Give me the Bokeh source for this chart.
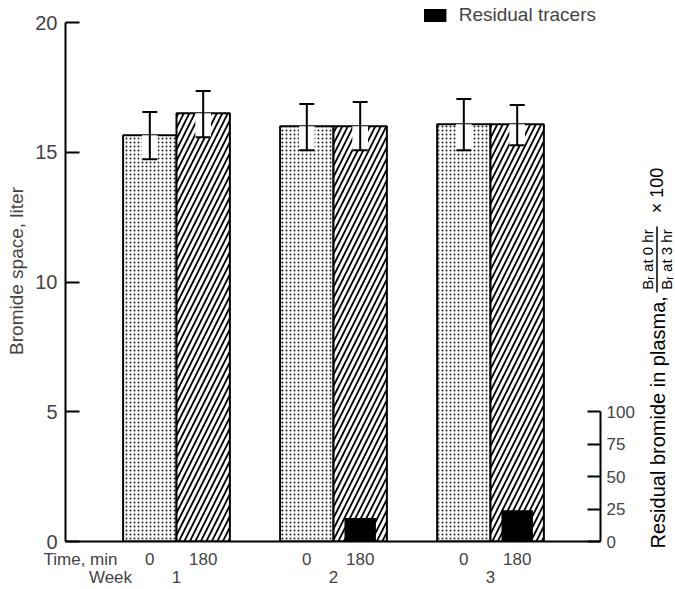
from math import pi

from bokeh.embed import file_html
from bokeh.layouts import row
from bokeh.models import (ColumnDataSource, FixedTicker, Legend, LegendItem,
                          LinearAxis, Range1d, TeeHead, Whisker)
from bokeh.core.properties import value
from bokeh.plotting import figure
from bokeh.resources import INLINE

# Bromide space (liters) at 0 and 180 min, by week, with error-bar limits
weeks = [1, 2, 3]
space_0 = [15.66, 16.0, 16.08]
space_0_lo = [14.73, 15.08, 15.08]
space_0_hi = [16.55, 16.86, 17.05]
space_180 = [16.5, 16.0, 16.08]
space_180_lo = [15.58, 15.08, 15.27]
space_180_hi = [17.36, 16.94, 16.82]
# Residual bromide in plasma (% of 0 hr), right axis
residual = [0, 18, 24]

left_ticks = [0, 5, 10, 15, 20]
right_ticks = [0, 25, 50, 75, 100]
time_labels = ["0", "180"]

FONT = "Liberation Sans"
BAR_W = 0.34
OFF = 0.17
X_START, X_END = 0.293, 3.7006
# row captions sit just left of the first pair of bars
TIME_CAPTION_X = X_START + 0.0956
WEEK_CAPTION_X = X_START + 0.2866

x0 = [w - OFF for w in weeks]
x180 = [w + OFF for w in weeks]

src0 = ColumnDataSource(dict(x=x0, top=space_0, lo=space_0_lo, hi=space_0_hi))
src180 = ColumnDataSource(dict(x=x180, top=space_180, lo=space_180_lo, hi=space_180_hi))
src_res = ColumnDataSource(dict(x=x180, top=residual))

p = figure(width=637, height=589,
           x_range=Range1d(X_START, X_END), y_range=Range1d(0, 20.85),
           output_backend="svg", toolbar_location=None,
           min_border_left=65, min_border_right=37,
           min_border_top=0, min_border_bottom=48)
p.frame_align = False
p.outline_line_color = None
p.grid.visible = False
p.background_fill_color = "white"
p.border_fill_color = "white"

# second scale for the residual percentage
p.extra_y_ranges = {"res": Range1d(0, 416.2)}

# stippled bars: 0 min
p.vbar(x="x", top="top", bottom=0, width=BAR_W, source=src0,
       fill_color="white", line_color="black", line_width=2,
       hatch_pattern="dot", hatch_scale=4, hatch_weight=1.8,
       hatch_color="#1a1a1a")
# hatched bars: 180 min
p.vbar(x="x", top="top", bottom=0, width=BAR_W, source=src180,
       fill_color="white", line_color="black", line_width=2,
       hatch_pattern="right_diagonal_line", hatch_scale=11,
       hatch_weight=1.8, hatch_color="black")
# residual tracers, solid black
res_r = p.vbar(x="x", top="top", bottom=0, width=0.2, source=src_res,
               y_range_name="res", fill_color="black", line_color=None)

# clear strip behind the lower half of each error bar
for src in (src0, src180):
    p.vbar(x="x", top="top", bottom="lo", width=0.1, source=src,
           fill_color="white", line_color=None)
    p.add_layout(Whisker(base="x", upper="hi", lower="lo", source=src,
                         level="overlay", line_width=2, line_color="black",
                         upper_head=TeeHead(size=15, line_width=2),
                         lower_head=TeeHead(size=15, line_width=2)))

# left axis
yax = p.yaxis[0]
yax.ticker = FixedTicker(ticks=left_ticks)
yax.bounds = (0, 20)
yax.major_tick_in = 14
yax.major_tick_out = 0
yax.minor_tick_line_color = None
yax.axis_line_width = 2
yax.major_tick_line_width = 2
yax.major_label_standoff = 8
yax.axis_label = "Bromide space, liter"
yax.axis_label_standoff = 5
yax.axis_label_text_font_style = "normal"
yax.axis_label_text_font = FONT
yax.axis_label_text_font_size = "19px"
yax.major_label_text_font = FONT
yax.major_label_text_font_size = "20px"

# right axis: residual %
rax = LinearAxis(y_range_name="res", ticker=FixedTicker(ticks=right_ticks),
                 bounds=(0, 100), major_tick_in=13, major_tick_out=0,
                 minor_tick_line_color=None, axis_line_width=2,
                 major_tick_line_width=2, major_label_standoff=6,
                 major_label_text_font=FONT, major_label_text_font_size="17px")
p.add_layout(rax, "right")

# bottom axis: time labels under each bar, caption at the left
xax = p.xaxis[0]
tick_pos = [TIME_CAPTION_X]
overrides = {TIME_CAPTION_X: "Time, min"}
for a, b in zip(x0, x180):
    tick_pos += [a, b]
    overrides[a] = time_labels[0]
    overrides[b] = time_labels[1]
xax.ticker = FixedTicker(ticks=tick_pos)
xax.major_label_overrides = overrides
xax.major_tick_in = 0
xax.major_tick_out = 0
xax.minor_tick_line_color = None
xax.axis_line_width = 2
xax.major_label_standoff = 8
xax.major_label_text_font = FONT
xax.major_label_text_font_size = "17px"

# week numbers under each pair
wax = LinearAxis(ticker=FixedTicker(ticks=[WEEK_CAPTION_X] + weeks),
                 major_label_overrides={WEEK_CAPTION_X: "Week"},
                 axis_line_color=None, major_tick_line_color=None,
                 minor_tick_line_color=None, major_tick_in=0,
                 major_tick_out=0, minor_tick_in=0, minor_tick_out=0,
                 major_label_standoff=-4,
                 major_label_text_font=FONT, major_label_text_font_size="17px")
p.add_layout(wax, "below")

legend = Legend(items=[LegendItem(label="Residual tracers", renderers=[res_r])],
                location="top_right", border_line_color=None,
                background_fill_alpha=0, glyph_width=28, glyph_height=16,
                label_text_font=FONT, label_text_font_size="19px",
                margin=4, padding=6, label_standoff=10)
p.add_layout(legend)

# strip to the right holding the title of the residual scale
STRIP_W = 675 - 637
t = figure(width=STRIP_W, height=589,
           x_range=Range1d(637, 675), y_range=Range1d(589, 0),
           output_backend="svg", toolbar_location=None,
           x_axis_location=None, y_axis_location=None,
           min_border=0, min_border_left=0, min_border_right=0,
           min_border_top=0, min_border_bottom=0)
t.frame_align = False
t.outline_line_color = None
t.grid.visible = False
t.background_fill_color = "white"
t.border_fill_color = "white"

t.text(x=[657], y=[548], text=["Residual bromide in plasma,"], angle=pi / 2,
       text_align="left", text_baseline="middle",
       text_font=value(FONT), text_font_size="20px", text_color="black")
t.text(x=[647, 666], y=[259, 259], text=["Bᵣ at 0 hr", "Bᵣ at 3 hr"],
       angle=pi / 2, text_align="center", text_baseline="middle",
       text_font=value(FONT), text_font_size="15px", text_color="black")
t.segment(x0=[656.5], y0=[226], x1=[656.5], y1=[292], line_width=1.5,
          line_color="black")
t.text(x=[656], y=[190], text=["× 100"], angle=pi / 2, text_align="center",
       text_baseline="middle", text_font=value(FONT), text_font_size="18px",
       text_color="black")

layout = row(p, t, spacing=0)
open("out.html", "w").write(file_html(layout, INLINE))
